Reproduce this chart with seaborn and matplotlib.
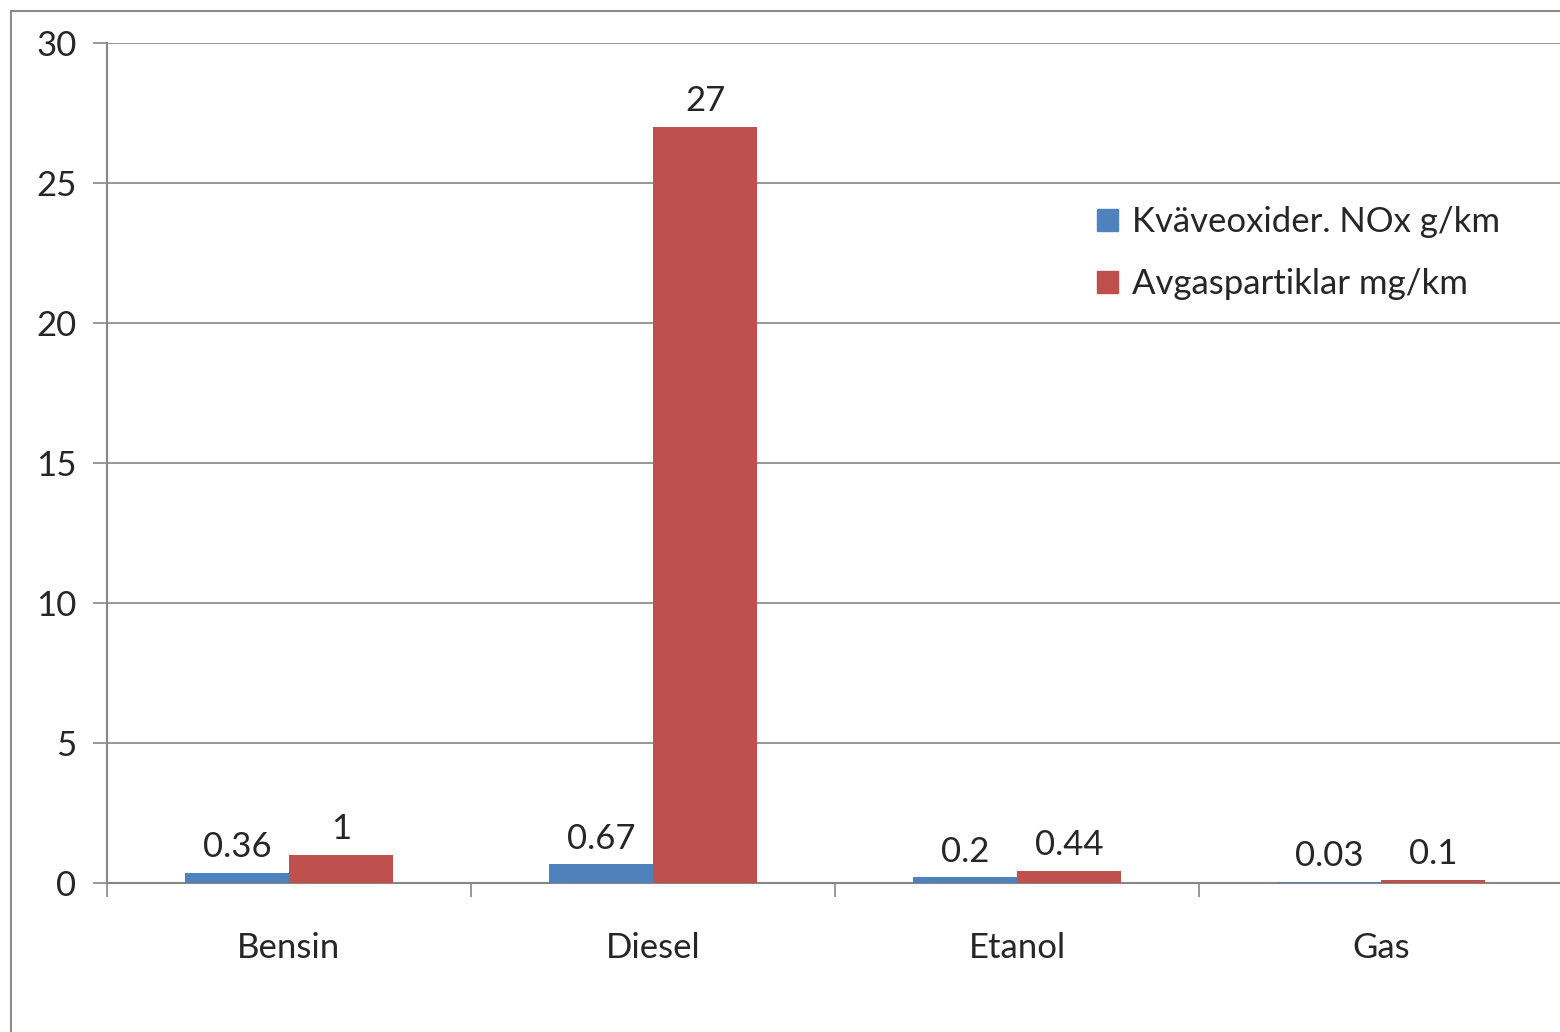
import matplotlib
matplotlib.use("Agg")
import matplotlib.pyplot as plt
import seaborn as sns
import pandas as pd
from matplotlib.patches import Rectangle

fuels = ["Bensin", "Diesel", "Etanol", "Gas"]
nox = [0.36, 0.67, 0.2, 0.03]
particles = [1, 27, 0.44, 0.1]
series_names = ["Kväveoxider. NOx g/km", "Avgaspartiklar mg/km"]
colors = ["#4F81BD", "#C0504D"]

df = pd.DataFrame({
    "fuel": fuels * 2,
    "value": nox + particles,
    "series": [series_names[0]] * 4 + [series_names[1]] * 4,
})

sns.set_style("white")
plt.rcParams["font.family"] = ["Lato", "DejaVu Sans"]

W, H = 1560, 1032
FS = 25
fig = plt.figure(figsize=(W / 100, H / 100), dpi=100)
ax = fig.add_axes([107 / W, (H - 883) / H, 1456 / W, 840 / H])

sns.barplot(data=df, x="fuel", y="value", hue="series", palette=colors,
            saturation=1, width=0.572, linewidth=0, ax=ax, legend=False,
            zorder=3)

for cont in ax.containers:
    ax.bar_label(cont, fmt="%g", padding=7, fontsize=FS)

ax.set_ylim(0, 30)
ax.set_xlim(-0.5, 3.5)
ax.set_yticks(range(0, 31, 5))
ax.set_ylabel("")
ax.set_xlabel("")
ax.yaxis.grid(True, color="#868686", lw=1.2)
ax.set_axisbelow(True)

for s in ["top", "right"]:
    ax.spines[s].set_visible(False)
for s in ["left", "bottom"]:
    ax.spines[s].set_color("#868686")
    ax.spines[s].set_linewidth(1.5)
    ax.spines[s].set_zorder(2)

ax.tick_params(axis="y", left=True, length=10, width=1.2, color="#868686",
               labelsize=FS, pad=12)
ax.set_xticks([-0.5, 0.5, 1.5, 2.5, 3.5], minor=True)
ax.tick_params(axis="x", which="minor", bottom=True, length=10, width=1.2,
               color="#868686")
ax.tick_params(axis="x", which="major", bottom=False, labelsize=FS, pad=32)

# legend
handles = [Rectangle((0, 0), 1, 1, color=c) for c in colors]
fig.legend(handles, series_names, loc="upper left",
           bbox_to_anchor=(1066 / W, 1 - 175 / H), frameon=False,
           fontsize=FS, handlelength=0.6, handleheight=0.6,
           handletextpad=0.4, labelspacing=0.85)

# chart-area border (cropped on right and bottom)
fig.patches.append(Rectangle((11 / W, -0.1), 2, 1 - 11 / H + 0.1,
                             transform=fig.transFigure, fill=False,
                             edgecolor="#8c8c8c", lw=1.5))

fig.savefig("out.png", dpi=100)
